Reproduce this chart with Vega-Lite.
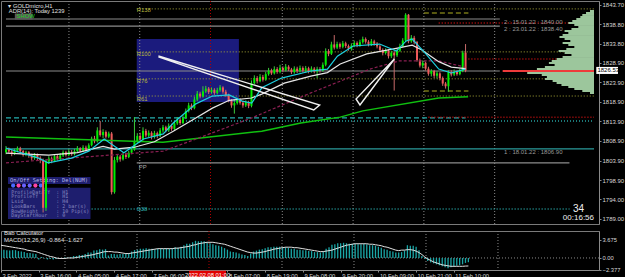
{
"$schema":"https://vega.github.io/schema/vega-lite/v6.json",
"background":"#000000",
"padding":0,
"spacing":4,
"config":{"view":{"stroke":"#7a7a7a","strokeWidth":1},"axis":{"labelFont":"Liberation Sans","labelColor":"#d8d8d8","domainColor":"#8a8a8a","tickColor":"#8a8a8a","grid":false},"text":{"font":"Liberation Sans"}},
"datasets":{
"c":[
{"i":0,"o":1806.0,"h":1807.6,"l":1805.5,"c":1806.8,"m":1.6,"s":2.6},
{"i":1,"o":1806.8,"h":1807.2,"l":1805.8,"c":1806.2,"m":1.7,"s":2.5},
{"i":2,"o":1806.2,"h":1806.6,"l":1805.0,"c":1805.6,"m":1.6,"s":2.4},
{"i":3,"o":1805.6,"h":1806.9,"l":1805.3,"c":1806.4,"m":1.5,"s":2.3},
{"i":4,"o":1806.4,"h":1807.5,"l":1806.0,"c":1807.0,"m":1.6,"s":2.2},
{"i":5,"o":1807.0,"h":1807.4,"l":1805.9,"c":1806.3,"m":1.6,"s":2.1},
{"i":6,"o":1806.3,"h":1806.6,"l":1804.9,"c":1805.4,"m":1.4,"s":2.0},
{"i":7,"o":1805.4,"h":1806.4,"l":1805.0,"c":1806.0,"m":1.3,"s":1.9},
{"i":8,"o":1806.0,"h":1806.3,"l":1804.6,"c":1805.2,"m":1.2,"s":1.8},
{"i":9,"o":1805.2,"h":1805.6,"l":1803.9,"c":1804.5,"m":1.0,"s":1.6},
{"i":10,"o":1804.5,"h":1805.8,"l":1804.1,"c":1805.3,"m":1.0,"s":1.5},
{"i":11,"o":1805.3,"h":1805.7,"l":1804.0,"c":1804.6,"m":0.9,"s":1.4},
{"i":12,"o":1804.6,"h":1805.0,"l":1803.2,"c":1804.0,"m":0.8,"s":1.3},
{"i":13,"o":1804.0,"h":1804.4,"l":1790.6,"c":1791.8,"m":-0.3,"s":1.1},
{"i":14,"o":1791.8,"h":1804.2,"l":1791.0,"c":1803.6,"m":0.2,"s":0.9},
{"i":15,"o":1803.6,"h":1805.0,"l":1803.0,"c":1804.4,"m":-0.1,"s":0.7},
{"i":16,"o":1804.4,"h":1804.9,"l":1803.2,"c":1803.8,"m":-0.3,"s":0.5},
{"i":17,"o":1803.8,"h":1805.4,"l":1803.5,"c":1805.0,"m":-0.2,"s":0.3},
{"i":18,"o":1805.0,"h":1805.5,"l":1803.9,"c":1804.3,"m":-0.3,"s":0.2},
{"i":19,"o":1804.3,"h":1805.8,"l":1804.0,"c":1805.2,"m":-0.2,"s":0.0},
{"i":20,"o":1805.2,"h":1806.5,"l":1804.8,"c":1806.0,"m":0.0,"s":-0.1},
{"i":21,"o":1806.0,"h":1806.4,"l":1804.9,"c":1805.3,"m":-0.1,"s":-0.1},
{"i":22,"o":1805.3,"h":1806.8,"l":1805.0,"c":1806.1,"m":0.1,"s":-0.1},
{"i":23,"o":1806.1,"h":1806.6,"l":1805.1,"c":1805.5,"m":0.1,"s":0.0},
{"i":24,"o":1805.5,"h":1806.9,"l":1805.2,"c":1806.3,"m":0.2,"s":0.0},
{"i":25,"o":1806.3,"h":1807.6,"l":1805.9,"c":1807.0,"m":0.4,"s":0.0},
{"i":26,"o":1807.0,"h":1807.3,"l":1806.0,"c":1806.4,"m":0.4,"s":0.1},
{"i":27,"o":1806.4,"h":1807.8,"l":1806.1,"c":1807.2,"m":0.6,"s":0.2},
{"i":28,"o":1807.2,"h":1807.7,"l":1806.2,"c":1806.6,"m":0.6,"s":0.3},
{"i":29,"o":1806.6,"h":1808.3,"l":1806.3,"c":1807.8,"m":0.8,"s":0.4},
{"i":30,"o":1807.8,"h":1810.0,"l":1807.5,"c":1809.5,"m":1.1,"s":0.5},
{"i":31,"o":1809.5,"h":1810.2,"l":1808.3,"c":1808.8,"m":1.1,"s":0.6},
{"i":32,"o":1808.8,"h":1812.4,"l":1808.5,"c":1811.6,"m":1.5,"s":0.7},
{"i":33,"o":1811.6,"h":1814.0,"l":1810.0,"c":1810.4,"m":1.6,"s":0.9},
{"i":34,"o":1810.4,"h":1811.9,"l":1809.6,"c":1811.2,"m":1.8,"s":1.0},
{"i":35,"o":1811.2,"h":1811.6,"l":1809.5,"c":1810.0,"m":1.7,"s":1.2},
{"i":36,"o":1810.0,"h":1811.3,"l":1809.6,"c":1810.8,"m":1.8,"s":1.3},
{"i":37,"o":1810.8,"h":1811.2,"l":1795.2,"c":1795.8,"m":0.5,"s":1.3},
{"i":38,"o":1795.8,"h":1804.8,"l":1795.4,"c":1804.0,"m":0.8,"s":1.3},
{"i":39,"o":1804.0,"h":1805.5,"l":1803.4,"c":1804.9,"m":0.8,"s":1.2},
{"i":40,"o":1804.9,"h":1805.3,"l":1803.6,"c":1804.2,"m":0.7,"s":1.2},
{"i":41,"o":1804.2,"h":1806.0,"l":1803.9,"c":1805.4,"m":0.8,"s":1.1},
{"i":42,"o":1805.4,"h":1805.9,"l":1804.3,"c":1804.8,"m":0.8,"s":1.0},
{"i":43,"o":1804.8,"h":1806.4,"l":1804.5,"c":1805.9,"m":0.9,"s":0.9},
{"i":44,"o":1805.9,"h":1807.2,"l":1805.5,"c":1806.7,"m":1.0,"s":0.9},
{"i":45,"o":1806.7,"h":1815.0,"l":1806.4,"c":1808.8,"m":1.3,"s":1.0},
{"i":46,"o":1808.8,"h":1810.9,"l":1808.2,"c":1810.2,"m":1.6,"s":1.1},
{"i":47,"o":1810.2,"h":1811.0,"l":1808.9,"c":1809.4,"m":1.7,"s":1.2},
{"i":48,"o":1809.4,"h":1812.4,"l":1809.0,"c":1811.5,"m":1.9,"s":1.3},
{"i":49,"o":1811.5,"h":1812.0,"l":1809.8,"c":1810.3,"m":1.9,"s":1.4},
{"i":50,"o":1810.3,"h":1811.6,"l":1809.9,"c":1811.0,"m":2.0,"s":1.5},
{"i":51,"o":1811.0,"h":1811.4,"l":1809.3,"c":1810.0,"m":1.9,"s":1.6},
{"i":52,"o":1810.0,"h":1811.5,"l":1809.5,"c":1810.9,"m":1.9,"s":1.7},
{"i":53,"o":1810.9,"h":1811.3,"l":1809.6,"c":1810.2,"m":1.8,"s":1.8},
{"i":54,"o":1810.2,"h":1812.2,"l":1809.9,"c":1811.6,"m":1.9,"s":1.9},
{"i":55,"o":1811.6,"h":1813.0,"l":1811.0,"c":1812.4,"m":2.0,"s":1.9},
{"i":56,"o":1812.4,"h":1812.8,"l":1811.1,"c":1811.6,"m":1.9,"s":1.9},
{"i":57,"o":1811.6,"h":1813.4,"l":1811.2,"c":1812.8,"m":2.0,"s":1.9},
{"i":58,"o":1812.8,"h":1813.3,"l":1811.5,"c":1812.0,"m":1.9,"s":1.9},
{"i":59,"o":1812.0,"h":1814.0,"l":1811.7,"c":1813.4,"m":2.0,"s":1.9},
{"i":60,"o":1813.4,"h":1815.0,"l":1813.0,"c":1814.3,"m":2.2,"s":2.0},
{"i":61,"o":1814.3,"h":1814.8,"l":1813.0,"c":1813.5,"m":2.1,"s":2.0},
{"i":62,"o":1813.5,"h":1815.5,"l":1813.2,"c":1814.8,"m":2.3,"s":2.1},
{"i":63,"o":1814.8,"h":1817.2,"l":1814.5,"c":1816.6,"m":2.6,"s":2.2},
{"i":64,"o":1816.6,"h":1818.7,"l":1816.2,"c":1818.0,"m":2.9,"s":2.3},
{"i":65,"o":1818.0,"h":1818.5,"l":1816.8,"c":1817.3,"m":2.9,"s":2.4},
{"i":66,"o":1817.3,"h":1820.2,"l":1817.0,"c":1819.5,"m":3.2,"s":2.6},
{"i":67,"o":1819.5,"h":1821.7,"l":1819.1,"c":1821.0,"m":3.5,"s":2.7},
{"i":68,"o":1821.0,"h":1821.5,"l":1819.8,"c":1820.3,"m":3.4,"s":2.9},
{"i":69,"o":1820.3,"h":1822.9,"l":1820.0,"c":1821.6,"m":3.4,"s":3.0},
{"i":70,"o":1821.6,"h":1823.0,"l":1821.2,"c":1822.3,"m":3.4,"s":3.1},
{"i":71,"o":1822.3,"h":1822.7,"l":1820.9,"c":1821.4,"m":3.2,"s":3.2},
{"i":72,"o":1821.4,"h":1822.6,"l":1821.0,"c":1822.0,"m":3.0,"s":3.2},
{"i":73,"o":1822.0,"h":1822.4,"l":1820.7,"c":1821.2,"m":2.8,"s":3.2},
{"i":74,"o":1821.2,"h":1822.5,"l":1820.8,"c":1821.9,"m":2.6,"s":3.1},
{"i":75,"o":1821.9,"h":1823.2,"l":1821.5,"c":1822.6,"m":2.5,"s":3.0},
{"i":76,"o":1822.6,"h":1822.9,"l":1821.0,"c":1821.5,"m":2.3,"s":2.9},
{"i":77,"o":1821.5,"h":1822.0,"l":1820.2,"c":1820.6,"m":2.0,"s":2.8},
{"i":78,"o":1820.6,"h":1821.0,"l":1818.8,"c":1819.2,"m":1.7,"s":2.6},
{"i":79,"o":1819.2,"h":1819.6,"l":1817.4,"c":1818.0,"m":1.3,"s":2.4},
{"i":80,"o":1818.0,"h":1819.6,"l":1815.9,"c":1818.6,"m":1.2,"s":2.2},
{"i":81,"o":1818.6,"h":1820.0,"l":1818.2,"c":1819.4,"m":1.1,"s":2.0},
{"i":82,"o":1819.4,"h":1819.9,"l":1818.2,"c":1818.7,"m":0.9,"s":1.8},
{"i":83,"o":1818.7,"h":1819.2,"l":1817.4,"c":1818.0,"m":0.7,"s":1.6},
{"i":84,"o":1818.0,"h":1819.3,"l":1817.6,"c":1818.8,"m":0.6,"s":1.4},
{"i":85,"o":1818.8,"h":1819.2,"l":1817.3,"c":1817.9,"m":0.4,"s":1.2},
{"i":86,"o":1817.9,"h":1824.4,"l":1817.5,"c":1823.7,"m":0.9,"s":1.1},
{"i":87,"o":1823.7,"h":1825.7,"l":1823.3,"c":1825.0,"m":1.3,"s":1.0},
{"i":88,"o":1825.0,"h":1825.5,"l":1823.6,"c":1824.2,"m":1.5,"s":1.0},
{"i":89,"o":1824.2,"h":1826.0,"l":1823.9,"c":1825.3,"m":1.7,"s":1.1},
{"i":90,"o":1825.3,"h":1825.8,"l":1824.1,"c":1824.6,"m":1.8,"s":1.2},
{"i":91,"o":1824.6,"h":1826.6,"l":1824.3,"c":1826.0,"m":2.0,"s":1.3},
{"i":92,"o":1826.0,"h":1827.6,"l":1825.6,"c":1826.9,"m":2.2,"s":1.5},
{"i":93,"o":1826.9,"h":1827.4,"l":1825.8,"c":1826.2,"m":2.2,"s":1.6},
{"i":94,"o":1826.2,"h":1828.0,"l":1825.9,"c":1827.3,"m":2.3,"s":1.8},
{"i":95,"o":1827.3,"h":1827.8,"l":1826.1,"c":1826.6,"m":2.3,"s":1.9},
{"i":96,"o":1826.6,"h":1828.4,"l":1826.2,"c":1827.6,"m":2.3,"s":2.0},
{"i":97,"o":1827.6,"h":1828.0,"l":1826.5,"c":1827.0,"m":2.2,"s":2.1},
{"i":98,"o":1827.0,"h":1828.6,"l":1826.7,"c":1827.9,"m":2.2,"s":2.2},
{"i":99,"o":1827.9,"h":1828.3,"l":1826.8,"c":1827.2,"m":2.1,"s":2.2},
{"i":100,"o":1827.2,"h":1827.6,"l":1826.0,"c":1826.5,"m":1.9,"s":2.2},
{"i":101,"o":1826.5,"h":1828.0,"l":1826.1,"c":1827.4,"m":1.9,"s":2.1},
{"i":102,"o":1827.4,"h":1827.9,"l":1826.3,"c":1826.8,"m":1.7,"s":2.1},
{"i":103,"o":1826.8,"h":1828.2,"l":1826.4,"c":1827.6,"m":1.7,"s":2.0},
{"i":104,"o":1827.6,"h":1828.0,"l":1826.4,"c":1826.9,"m":1.6,"s":1.9},
{"i":105,"o":1826.9,"h":1828.1,"l":1826.3,"c":1827.5,"m":1.6,"s":1.8},
{"i":106,"o":1827.5,"h":1827.9,"l":1826.2,"c":1826.8,"m":1.4,"s":1.7},
{"i":107,"o":1826.8,"h":1828.0,"l":1826.4,"c":1827.4,"m":1.4,"s":1.6},
{"i":108,"o":1827.4,"h":1827.8,"l":1826.2,"c":1826.7,"m":1.2,"s":1.5},
{"i":109,"o":1826.7,"h":1827.9,"l":1825.0,"c":1827.3,"m":1.2,"s":1.4},
{"i":110,"o":1827.3,"h":1827.8,"l":1826.4,"c":1826.9,"m":1.1,"s":1.3},
{"i":111,"o":1826.9,"h":1829.0,"l":1826.6,"c":1828.4,"m":1.3,"s":1.3},
{"i":112,"o":1828.4,"h":1832.6,"l":1828.0,"c":1831.9,"m":1.9,"s":1.4},
{"i":113,"o":1831.9,"h":1832.4,"l":1830.6,"c":1831.2,"m":2.2,"s":1.5},
{"i":114,"o":1831.2,"h":1834.3,"l":1830.9,"c":1833.6,"m":2.7,"s":1.6},
{"i":115,"o":1833.6,"h":1836.0,"l":1832.3,"c":1832.8,"m":2.8,"s":1.8},
{"i":116,"o":1832.8,"h":1834.3,"l":1832.4,"c":1833.7,"m":3.0,"s":2.0},
{"i":117,"o":1833.7,"h":1834.1,"l":1832.5,"c":1833.0,"m":3.0,"s":2.2},
{"i":118,"o":1833.0,"h":1834.5,"l":1832.6,"c":1833.9,"m":3.1,"s":2.4},
{"i":119,"o":1833.9,"h":1834.3,"l":1832.7,"c":1833.2,"m":3.0,"s":2.6},
{"i":120,"o":1833.2,"h":1833.6,"l":1832.0,"c":1832.5,"m":2.9,"s":2.7},
{"i":121,"o":1832.5,"h":1833.9,"l":1832.0,"c":1833.3,"m":2.9,"s":2.8},
{"i":122,"o":1833.3,"h":1834.6,"l":1832.9,"c":1834.0,"m":2.9,"s":2.9},
{"i":123,"o":1834.0,"h":1834.4,"l":1832.9,"c":1833.4,"m":2.8,"s":2.9},
{"i":124,"o":1833.4,"h":1834.8,"l":1833.0,"c":1834.2,"m":2.8,"s":2.9},
{"i":125,"o":1834.2,"h":1835.6,"l":1833.8,"c":1835.0,"m":2.9,"s":2.9},
{"i":126,"o":1835.0,"h":1835.4,"l":1833.8,"c":1834.3,"m":2.8,"s":2.9},
{"i":127,"o":1834.3,"h":1834.7,"l":1833.1,"c":1833.6,"m":2.6,"s":2.8},
{"i":128,"o":1833.6,"h":1835.0,"l":1833.2,"c":1834.4,"m":2.6,"s":2.8},
{"i":129,"o":1834.4,"h":1834.8,"l":1833.3,"c":1833.8,"m":2.5,"s":2.7},
{"i":130,"o":1833.8,"h":1834.2,"l":1832.6,"c":1833.1,"m":2.3,"s":2.6},
{"i":131,"o":1833.1,"h":1833.5,"l":1831.7,"c":1832.2,"m":2.1,"s":2.5},
{"i":132,"o":1832.2,"h":1832.6,"l":1830.8,"c":1831.4,"m":1.8,"s":2.3},
{"i":133,"o":1831.4,"h":1832.6,"l":1831.0,"c":1832.0,"m":1.7,"s":2.2},
{"i":134,"o":1832.0,"h":1832.4,"l":1830.0,"c":1830.6,"m":1.4,"s":2.0},
{"i":135,"o":1830.6,"h":1832.0,"l":1830.1,"c":1831.5,"m":1.3,"s":1.8},
{"i":136,"o":1831.5,"h":1831.9,"l":1821.8,"c":1830.8,"m":1.1,"s":1.6},
{"i":137,"o":1830.8,"h":1832.6,"l":1830.4,"c":1832.0,"m":1.1,"s":1.5},
{"i":138,"o":1832.0,"h":1833.8,"l":1831.7,"c":1833.2,"m":1.2,"s":1.6},
{"i":139,"o":1833.2,"h":1835.2,"l":1832.8,"c":1834.6,"m":1.5,"s":1.6},
{"i":140,"o":1834.6,"h":1841.6,"l":1834.2,"c":1841.2,"m":2.6,"s":1.7},
{"i":141,"o":1841.2,"h":1841.4,"l":1833.9,"c":1834.4,"m":2.5,"s":1.7},
{"i":142,"o":1834.4,"h":1836.0,"l":1834.0,"c":1835.3,"m":2.5,"s":1.6},
{"i":143,"o":1835.3,"h":1835.8,"l":1833.6,"c":1834.2,"m":2.3,"s":1.4},
{"i":144,"o":1834.2,"h":1834.5,"l":1829.2,"c":1829.6,"m":1.6,"s":1.1},
{"i":145,"o":1829.6,"h":1830.0,"l":1827.7,"c":1828.2,"m":0.4,"s":0.7},
{"i":146,"o":1828.2,"h":1829.5,"l":1827.5,"c":1828.9,"m":-0.2,"s":0.2},
{"i":147,"o":1828.9,"h":1829.2,"l":1826.9,"c":1827.4,"m":-0.6,"s":-0.2},
{"i":148,"o":1827.4,"h":1827.9,"l":1825.6,"c":1826.1,"m":-0.9,"s":-0.5},
{"i":149,"o":1826.1,"h":1827.3,"l":1825.4,"c":1826.8,"m":-1.1,"s":-0.8},
{"i":150,"o":1826.8,"h":1827.1,"l":1825.0,"c":1825.6,"m":-1.3,"s":-1.0},
{"i":151,"o":1825.6,"h":1826.8,"l":1824.9,"c":1826.2,"m":-1.5,"s":-1.2},
{"i":152,"o":1826.2,"h":1826.5,"l":1824.4,"c":1825.0,"m":-1.7,"s":-1.4},
{"i":153,"o":1825.0,"h":1825.4,"l":1823.0,"c":1823.6,"m":-1.9,"s":-1.5},
{"i":154,"o":1823.6,"h":1824.0,"l":1822.3,"c":1822.9,"m":-2.1,"s":-1.6},
{"i":155,"o":1822.9,"h":1827.0,"l":1821.5,"c":1826.5,"m":-1.9,"s":-1.7},
{"i":156,"o":1826.5,"h":1827.0,"l":1825.4,"c":1825.9,"m":-1.8,"s":-1.7},
{"i":157,"o":1825.9,"h":1827.2,"l":1825.5,"c":1826.6,"m":-1.6,"s":-1.7},
{"i":158,"o":1826.6,"h":1827.0,"l":1825.6,"c":1826.0,"m":-1.5,"s":-1.7},
{"i":159,"o":1826.0,"h":1827.4,"l":1825.7,"c":1826.8,"m":-1.3,"s":-1.7},
{"i":160,"o":1826.8,"h":1832.0,"l":1826.5,"c":1831.5,"m":-1.0,"s":-1.65},
{"i":161,"o":1831.5,"h":1833.7,"l":1826.5,"c":1826.9,"m":-0.86,"s":-1.63}
],
"ma":[
{"k":"c","i":0,"p":1807.1},{"k":"c","i":11.4,"p":1804.5},{"k":"c","i":14.8,"p":1803.3},{"k":"c","i":23,"p":1804.5},{"k":"c","i":29,"p":1806.3},{"k":"c","i":34.4,"p":1809.4},{"k":"c","i":37.9,"p":1807.6},{"k":"c","i":41.3,"p":1805.9},{"k":"c","i":48.2,"p":1809.4},{"k":"c","i":55.1,"p":1810.7},{"k":"c","i":58.6,"p":1813.5},{"k":"c","i":66.5,"p":1818.4},{"k":"c","i":72.3,"p":1820.4},{"k":"c","i":78.2,"p":1820.7},{"k":"c","i":82.7,"p":1819.1},{"k":"c","i":86.1,"p":1818.6},{"k":"c","i":89.6,"p":1822.5},{"k":"c","i":96.5,"p":1825.0},{"k":"c","i":106.8,"p":1826.8},{"k":"c","i":112.6,"p":1827.3},{"k":"c","i":116.1,"p":1830.6},{"k":"c","i":121.6,"p":1833.2},{"k":"c","i":130.9,"p":1833.7},{"k":"c","i":136.8,"p":1831.9},{"k":"c","i":140.2,"p":1834.5},{"k":"c","i":142.3,"p":1835.0},{"k":"c","i":147.1,"p":1831.2},{"k":"c","i":151.6,"p":1827.3},{"k":"c","i":156,"p":1826.3},{"k":"c","i":160.9,"p":1827.3},
{"k":"w","i":0,"p":1805.8},{"k":"w","i":15,"p":1805.3},{"k":"w","i":25,"p":1805.9},{"k":"w","i":34,"p":1807.5},{"k":"w","i":38,"p":1806.8},{"k":"w","i":45,"p":1807.3},{"k":"w","i":52,"p":1808.7},{"k":"w","i":58.6,"p":1811.4},{"k":"w","i":66.5,"p":1814.8},{"k":"w","i":72.3,"p":1817.3},{"k":"w","i":78.2,"p":1819.3},{"k":"w","i":86,"p":1819.9},{"k":"w","i":89.6,"p":1820.9},{"k":"w","i":97.5,"p":1823.7},{"k":"w","i":106.8,"p":1825.5},{"k":"w","i":112.6,"p":1826.4},{"k":"w","i":117.1,"p":1828.6},{"k":"w","i":126.4,"p":1831.2},{"k":"w","i":135.4,"p":1832.4},{"k":"w","i":142.3,"p":1833.4},{"k":"w","i":145.7,"p":1832.2},{"k":"w","i":151.6,"p":1829.2},{"k":"w","i":156,"p":1827.8},{"k":"w","i":161,"p":1827.4},
{"k":"r","i":0,"p":1803.3},{"k":"r","i":55.1,"p":1806.3},{"k":"r","i":71.3,"p":1810.7},{"k":"r","i":86.1,"p":1814.8},{"k":"r","i":106.8,"p":1821.2},{"k":"r","i":117.1,"p":1824.2},{"k":"r","i":127.5,"p":1827.3},{"k":"r","i":137.8,"p":1829.4},{"k":"r","i":151.6,"p":1829.4},{"k":"r","i":160.9,"p":1827.8},
{"k":"g","i":0,"p":1809.9},{"k":"g","i":55,"p":1808.6},{"k":"g","i":89.6,"p":1811.4},{"k":"g","i":103.3,"p":1813.5},{"k":"g","i":117.1,"p":1815.0},{"k":"g","i":125,"p":1816.6},{"k":"g","i":151.6,"p":1819.9},{"k":"g","i":161.9,"p":1820.2}
],
"lv":[
{"p":1842.7,"a":45.8,"b":206,"t":"ol"},
{"p":1831.7,"a":45.8,"b":206,"t":"ol"},
{"p":1824.8,"a":45.8,"b":206,"t":"ol"},
{"p":1820.4,"a":45.8,"b":206,"t":"ol"},
{"p":1841.65,"a":146.4,"b":162,"t":"od"},
{"p":1821.7,"a":146.4,"b":162,"t":"od"},
{"p":1840.1,"a":0,"b":173,"t":"gr"},
{"p":1838.3,"a":0,"b":173,"t":"gr"},
{"p":1826.8,"a":0,"b":173,"t":"gr"},
{"p":1803.3,"a":45.8,"b":197.4,"t":"g1"},
{"p":1806.85,"a":0,"b":206,"t":"te"},
{"p":1814.8,"a":0,"b":161,"t":"td"},
{"p":1814.0,"a":0,"b":206,"t":"tt"},
{"p":1791.5,"a":30,"b":197.4,"t":"tt"},
{"p":1839.1,"a":151.6,"b":206,"t":"rd"},
{"p":1829.9,"a":162,"b":206,"t":"rd"},
{"p":1815.0,"a":148,"b":206,"t":"rd"}
],
"prof":[
{"p1":1841.91,"p2":1842.42,"a":204.6,"k":"n"},
{"p1":1841.40,"p2":1841.91,"a":203.2,"k":"n"},
{"p1":1840.89,"p2":1841.40,"a":201.9,"k":"n"},
{"p1":1840.37,"p2":1840.88,"a":201.2,"k":"n"},
{"p1":1839.86,"p2":1840.37,"a":199.8,"k":"n"},
{"p1":1839.35,"p2":1839.86,"a":198.4,"k":"n"},
{"p1":1838.84,"p2":1839.35,"a":197.0,"k":"n"},
{"p1":1838.33,"p2":1838.84,"a":199.1,"k":"n"},
{"p1":1837.81,"p2":1838.32,"a":200.5,"k":"n"},
{"p1":1837.30,"p2":1837.81,"a":198.1,"k":"n"},
{"p1":1836.79,"p2":1837.30,"a":195.7,"k":"n"},
{"p1":1836.28,"p2":1836.79,"a":197.0,"k":"n"},
{"p1":1835.77,"p2":1836.28,"a":195.0,"k":"n"},
{"p1":1835.25,"p2":1835.76,"a":193.9,"k":"n"},
{"p1":1834.74,"p2":1835.25,"a":195.7,"k":"n"},
{"p1":1834.23,"p2":1834.74,"a":197.7,"k":"n"},
{"p1":1833.72,"p2":1834.23,"a":195.0,"k":"n"},
{"p1":1833.21,"p2":1833.72,"a":197.0,"k":"n"},
{"p1":1832.69,"p2":1833.20,"a":199.1,"k":"n"},
{"p1":1832.18,"p2":1832.69,"a":196.3,"k":"n"},
{"p1":1831.67,"p2":1832.18,"a":193.6,"k":"n"},
{"p1":1831.16,"p2":1831.67,"a":195.7,"k":"n"},
{"p1":1830.65,"p2":1831.16,"a":198.1,"k":"n"},
{"p1":1830.14,"p2":1830.65,"a":195.0,"k":"n"},
{"p1":1829.62,"p2":1830.13,"a":192.9,"k":"n"},
{"p1":1829.11,"p2":1829.62,"a":191.2,"k":"n"},
{"p1":1828.60,"p2":1829.11,"a":190.2,"k":"n"},
{"p1":1828.09,"p2":1828.60,"a":192.2,"k":"n"},
{"p1":1827.58,"p2":1828.09,"a":188.8,"k":"n"},
{"p1":1827.06,"p2":1827.57,"a":186.0,"k":"n"},
{"p1":1826.55,"p2":1827.06,"a":174.0,"k":"c"},
{"p1":1826.04,"p2":1826.55,"a":182.6,"k":"n"},
{"p1":1825.53,"p2":1826.04,"a":187.7,"k":"n"},
{"p1":1825.02,"p2":1825.53,"a":189.5,"k":"n"},
{"p1":1824.51,"p2":1825.02,"a":188.8,"k":"n"},
{"p1":1823.99,"p2":1824.50,"a":191.5,"k":"n"},
{"p1":1823.48,"p2":1823.99,"a":192.9,"k":"n"},
{"p1":1822.97,"p2":1823.48,"a":194.6,"k":"n"},
{"p1":1822.46,"p2":1822.97,"a":197.0,"k":"n"},
{"p1":1821.95,"p2":1822.46,"a":199.1,"k":"n"},
{"p1":1821.43,"p2":1821.94,"a":201.9,"k":"n"},
{"p1":1820.92,"p2":1821.43,"a":204.6,"k":"n"}
],
"vg":[{"i":22.05,"r":"n"},{"i":46.85,"r":"n"},{"i":71.65,"r":"r"},{"i":96.8,"r":"n"},{"i":121.6,"r":"n"},{"i":146.4,"r":"n"},{"i":171.2,"r":"n"}],
"wedge":[
{"w":1,"o":0,"i":53.39,"p":1830.65},{"w":1,"o":1,"i":109.89,"p":1818.11},{"w":1,"o":2,"i":107.82,"p":1816.83},{"w":1,"o":3,"i":53.39,"p":1830.4},
{"w":2,"o":0,"i":136.07,"p":1829.88},{"w":2,"o":1,"i":122.63,"p":1819.64},{"w":2,"o":2,"i":124.01,"p":1818.11},{"w":2,"o":3,"i":136.07,"p":1829.88}
],
"tx":[
{"i":0.8,"p":1843.55,"s":"▾ GOLDmicro,H1","k":"hd"},
{"i":1.0,"p":1842.05,"s":"ADR(14): Today 1239","k":"hd"},
{"i":3.7,"p":1840.8,"s":"SHOW","k":"sh"},
{"i":45.8,"p":1842.3,"s":"R138","k":"rl"},
{"i":45.8,"p":1831.15,"s":"R100","k":"rl"},
{"i":45.8,"p":1824.25,"s":"R76","k":"rl"},
{"i":45.8,"p":1819.75,"s":"R61","k":"rl"},
{"i":46.5,"p":1802.2,"s":"PP","k":"pp"},
{"i":45.8,"p":1791.5,"s":"S38","k":"s38"},
{"i":174.5,"p":1839.45,"s":"2 : 15.01.22 : 1840.00","k":"lb"},
{"i":174.5,"p":1837.65,"s":"2 : 23.01.22 : 1838.40","k":"lb"},
{"i":174.5,"p":1806.05,"s":"1 : 18.01.22 : 1806.90","k":"lb"}
],
"txr":[
{"i":202.5,"p":1791.6,"s":"34","k":"big"},
{"i":206,"p":1789.1,"s":"00:16:56","k":"clk"}
],
"set":[
{"k":"ProfileDataTf","v":": H1","p":1795.84},
{"k":"ProfileTf","v":": H1","p":1794.69},
{"k":"Lsid","v":": H4","p":1793.54},
{"k":"LookBars","v":": 2 bar(s)","p":1792.26},
{"k":"RowHeight","v":": 10 Pip(s)","p":1790.98},
{"k":"DayStartHour","v":": 0","p":1789.83}
]
},
"vconcat":[
{
"width":598,"height":223,
"resolve":{"scale":{"color":"independent","size":"independent","strokeDash":"independent","strokeWidth":"independent"}},
"layer":[
{"data":{"values":[{"a":45.8,"b":81.6,"p1":1835.0,"p2":1818.9}]},
"mark":{"type":"rect","fill":"#1b1b7d"},
"encoding":{
"x":{"field":"a","type":"quantitative","scale":{"domain":[0,206],"nice":false,"zero":false},"axis":null},
"x2":{"field":"b"},
"y":{"field":"p1","type":"quantitative","scale":{"domain":[1787.65,1844.72],"nice":false,"zero":false},"axis":{"orient":"right","title":null,"values":[1843.7,1838.8,1833.8,1828.9,1823.9,1818.9,1813.9,1808.9,1803.9,1798.9,1794.0,1789.0],"format":".2f","labelFontSize":6,"tickSize":2,"labelPadding":1,"labelOverlap":false,"labelFlush":false}},
"y2":{"field":"p2"}}},
{"data":{"name":"vg"},"mark":{"type":"rule","strokeDash":[1,2],"strokeWidth":1},
"encoding":{"x":{"field":"i","type":"quantitative","scale":{"domain":[0,206]},"axis":null},
"color":{"field":"r","type":"nominal","scale":{"domain":["n","r"],"range":["#8a8a8a","#b00000"]},"legend":null}}},
{"data":{"name":"lv"},"mark":{"type":"rule","clip":true},
"encoding":{"x":{"field":"a","type":"quantitative","scale":{"domain":[0,206]},"axis":null},"x2":{"field":"b"},
"y":{"field":"p","type":"quantitative","scale":{"domain":[1787.65,1844.72]},"axis":{"orient":"right","title":null,"values":[1843.7,1838.8,1833.8,1828.9,1823.9,1818.9,1813.9,1808.9,1803.9,1798.9,1794.0,1789.0],"format":".2f","labelFontSize":6,"tickSize":2,"labelPadding":1,"labelOverlap":false,"labelFlush":false}},
"color":{"field":"t","type":"nominal","scale":{"domain":["ol","od","gr","g1","te","td","tt","rd"],"range":["#a8a838","#b0b020","#8c8c8c","#8c8c8c","#2a9a9a","#25b0b0","#25a0a0","#c01010"]},"legend":null},
"strokeDash":{"field":"t","type":"nominal","scale":{"domain":["ol","od","gr","g1","te","td","tt","rd"],"range":[[1,2],[5,3],[1,0],[1,0],[1,0],[5,3],[1,2],[1,2]]},"legend":null},
"strokeWidth":{"field":"t","type":"nominal","scale":{"domain":["ol","od","gr","g1","te","td","tt","rd"],"range":[1,1.5,2,1,1.5,1,1,1]},"legend":null}}},
{"data":{"values":[{"a":0.7,"b":29.6,"p1":1799.7,"p2":1797.9},{"a":0.7,"b":29.6,"p1":1796.9,"p2":1788.9}]},
"mark":{"type":"rect","fill":"#1e1e6e"},
"encoding":{"x":{"field":"a","type":"quantitative","scale":{"domain":[0,206]},"axis":null},"x2":{"field":"b"},
"y":{"field":"p1","type":"quantitative","scale":{"domain":[1787.65,1844.72]},"axis":{"orient":"right","title":null,"values":[1843.7,1838.8,1833.8,1828.9,1823.9,1818.9,1813.9,1808.9,1803.9,1798.9,1794.0,1789.0],"format":".2f","labelFontSize":6,"tickSize":2,"labelPadding":1,"labelOverlap":false,"labelFlush":false}},"y2":{"field":"p2"}}},
{"data":{"values":[{"i":2.5,"p":1797.5,"c":"#4a6aff"},{"i":4.4,"p":1797.5,"c":"#ff45a5"},{"i":6.3,"p":1797.5,"c":"#6a62ff"},{"i":8.3,"p":1797.5,"c":"#6a62ff"},{"i":10.3,"p":1797.5,"c":"#ff45a5"},{"i":12.2,"p":1797.5,"c":"#4a6aff"}]},
"mark":{"type":"point","filled":true,"size":18,"opacity":1},
"encoding":{"x":{"field":"i","type":"quantitative","scale":{"domain":[0,206]},"axis":null},
"y":{"field":"p","type":"quantitative","scale":{"domain":[1787.65,1844.72]},"axis":{"orient":"right","title":null,"values":[1843.7,1838.8,1833.8,1828.9,1823.9,1818.9,1813.9,1808.9,1803.9,1798.9,1794.0,1789.0],"format":".2f","labelFontSize":6,"tickSize":2,"labelPadding":1,"labelOverlap":false,"labelFlush":false}},
"color":{"field":"c","type":"nominal","scale":null}}},
{"data":{"values":[{"i":1.4,"p":1798.8,"s":"On/Off Setting: Del(NUM)"}]},
"mark":{"type":"text","align":"left","baseline":"middle","font":"DejaVu Sans Mono","fontSize":5.4,"color":"#b8b8e8"},
"encoding":{"x":{"field":"i","type":"quantitative","scale":{"domain":[0,206]},"axis":null},
"y":{"field":"p","type":"quantitative","scale":{"domain":[1787.65,1844.72]},"axis":{"orient":"right","title":null,"values":[1843.7,1838.8,1833.8,1828.9,1823.9,1818.9,1813.9,1808.9,1803.9,1798.9,1794.0,1789.0],"format":".2f","labelFontSize":6,"tickSize":2,"labelPadding":1,"labelOverlap":false,"labelFlush":false}},"text":{"field":"s"}}},
{"data":{"name":"set"},
"mark":{"type":"text","align":"left","baseline":"middle","font":"DejaVu Sans Mono","fontSize":5,"color":"#8a8ac0"},
"encoding":{"x":{"datum":1.8,"type":"quantitative","scale":{"domain":[0,206]},"axis":null},
"y":{"field":"p","type":"quantitative","scale":{"domain":[1787.65,1844.72]},"axis":{"orient":"right","title":null,"values":[1843.7,1838.8,1833.8,1828.9,1823.9,1818.9,1813.9,1808.9,1803.9,1798.9,1794.0,1789.0],"format":".2f","labelFontSize":6,"tickSize":2,"labelPadding":1,"labelOverlap":false,"labelFlush":false}},"text":{"field":"k"}}},
{"data":{"name":"set"},
"mark":{"type":"text","align":"left","baseline":"middle","font":"DejaVu Sans Mono","fontSize":5,"color":"#8a8ac0"},
"encoding":{"x":{"datum":17.6,"type":"quantitative","scale":{"domain":[0,206]},"axis":null},
"y":{"field":"p","type":"quantitative","scale":{"domain":[1787.65,1844.72]},"axis":{"orient":"right","title":null,"values":[1843.7,1838.8,1833.8,1828.9,1823.9,1818.9,1813.9,1808.9,1803.9,1798.9,1794.0,1789.0],"format":".2f","labelFontSize":6,"tickSize":2,"labelPadding":1,"labelOverlap":false,"labelFlush":false}},"text":{"field":"v"}}},
{"data":{"values":[{"a":3.1,"b":9.3,"p1":1841.55,"p2":1840.0}]},
"mark":{"type":"rect","fill":"#5a5a5a"},
"encoding":{"x":{"field":"a","type":"quantitative","scale":{"domain":[0,206]},"axis":null},"x2":{"field":"b"},
"y":{"field":"p1","type":"quantitative","scale":{"domain":[1787.65,1844.72]},"axis":{"orient":"right","title":null,"values":[1843.7,1838.8,1833.8,1828.9,1823.9,1818.9,1813.9,1808.9,1803.9,1798.9,1794.0,1789.0],"format":".2f","labelFontSize":6,"tickSize":2,"labelPadding":1,"labelOverlap":false,"labelFlush":false}},"y2":{"field":"p2"}}},
{"data":{"name":"prof"},"mark":{"type":"rect"},
"encoding":{"x":{"field":"a","type":"quantitative","scale":{"domain":[0,206]},"axis":null},"x2":{"datum":206},
"y":{"field":"p1","type":"quantitative","scale":{"domain":[1787.65,1844.72]},"axis":{"orient":"right","title":null,"values":[1843.7,1838.8,1833.8,1828.9,1823.9,1818.9,1813.9,1808.9,1803.9,1798.9,1794.0,1789.0],"format":".2f","labelFontSize":6,"tickSize":2,"labelPadding":1,"labelOverlap":false,"labelFlush":false}},"y2":{"field":"p2"},
"color":{"field":"k","type":"nominal","scale":{"domain":["n","c"],"range":["#9cc69c","#ee3b3b"]},"legend":null}}},
{"data":{"name":"c"},"mark":{"type":"rule","strokeWidth":1,"clip":true},
"encoding":{"x":{"field":"i","type":"quantitative","scale":{"domain":[0,206]},"axis":null},
"y":{"field":"l","type":"quantitative","scale":{"domain":[1787.65,1844.72]},"axis":{"orient":"right","title":null,"values":[1843.7,1838.8,1833.8,1828.9,1823.9,1818.9,1813.9,1808.9,1803.9,1798.9,1794.0,1789.0],"format":".2f","labelFontSize":6,"tickSize":2,"labelPadding":1,"labelOverlap":false,"labelFlush":false}},"y2":{"field":"h"},
"color":{"condition":{"test":"datum.c >= datum.o","value":"#3ccc3c"},"value":"#c86a6a"}}},
{"data":{"name":"c"},"mark":{"type":"bar","size":2,"clip":true},
"encoding":{"x":{"field":"i","type":"quantitative","scale":{"domain":[0,206]},"axis":null},
"y":{"field":"o","type":"quantitative","scale":{"domain":[1787.65,1844.72]},"axis":{"orient":"right","title":null,"values":[1843.7,1838.8,1833.8,1828.9,1823.9,1818.9,1813.9,1808.9,1803.9,1798.9,1794.0,1789.0],"format":".2f","labelFontSize":6,"tickSize":2,"labelPadding":1,"labelOverlap":false,"labelFlush":false}},"y2":{"field":"c"},
"color":{"condition":{"test":"datum.c >= datum.o","value":"#00ee00"},"value":"#f05a5a"}}},
{"data":{"name":"ma"},"transform":[{"filter":"datum.k == 'g'"}],"mark":{"type":"line","stroke":"#10c010","strokeWidth":1.5,"clip":true},
"encoding":{"x":{"field":"i","type":"quantitative","scale":{"domain":[0,206]},"axis":null},"y":{"field":"p","type":"quantitative","scale":{"domain":[1787.65,1844.72]},"axis":{"orient":"right","title":null,"values":[1843.7,1838.8,1833.8,1828.9,1823.9,1818.9,1813.9,1808.9,1803.9,1798.9,1794.0,1789.0],"format":".2f","labelFontSize":6,"tickSize":2,"labelPadding":1,"labelOverlap":false,"labelFlush":false}}}},
{"data":{"name":"ma"},"transform":[{"filter":"datum.k == 'r'"}],"mark":{"type":"line","stroke":"#8a1f52","strokeWidth":1.2,"strokeDash":[3,2],"clip":true},
"encoding":{"x":{"field":"i","type":"quantitative","scale":{"domain":[0,206]},"axis":null},"y":{"field":"p","type":"quantitative","scale":{"domain":[1787.65,1844.72]},"axis":{"orient":"right","title":null,"values":[1843.7,1838.8,1833.8,1828.9,1823.9,1818.9,1813.9,1808.9,1803.9,1798.9,1794.0,1789.0],"format":".2f","labelFontSize":6,"tickSize":2,"labelPadding":1,"labelOverlap":false,"labelFlush":false}}}},
{"data":{"name":"ma"},"transform":[{"filter":"datum.k == 'w'"}],"mark":{"type":"line","stroke":"#e6e6e6","strokeWidth":1.2,"clip":true},
"encoding":{"x":{"field":"i","type":"quantitative","scale":{"domain":[0,206]},"axis":null},"y":{"field":"p","type":"quantitative","scale":{"domain":[1787.65,1844.72]},"axis":{"orient":"right","title":null,"values":[1843.7,1838.8,1833.8,1828.9,1823.9,1818.9,1813.9,1808.9,1803.9,1798.9,1794.0,1789.0],"format":".2f","labelFontSize":6,"tickSize":2,"labelPadding":1,"labelOverlap":false,"labelFlush":false}}}},
{"data":{"name":"ma"},"transform":[{"filter":"datum.k == 'c'"}],"mark":{"type":"line","stroke":"#1ed0e0","strokeWidth":1.2,"clip":true},
"encoding":{"x":{"field":"i","type":"quantitative","scale":{"domain":[0,206]},"axis":null},"y":{"field":"p","type":"quantitative","scale":{"domain":[1787.65,1844.72]},"axis":{"orient":"right","title":null,"values":[1843.7,1838.8,1833.8,1828.9,1823.9,1818.9,1813.9,1808.9,1803.9,1798.9,1794.0,1789.0],"format":".2f","labelFontSize":6,"tickSize":2,"labelPadding":1,"labelOverlap":false,"labelFlush":false}}}},
{"data":{"name":"wedge"},"mark":{"type":"line","stroke":"#f0f0f0","strokeWidth":1.4},
"encoding":{"x":{"field":"i","type":"quantitative","scale":{"domain":[0,206]},"axis":null},"y":{"field":"p","type":"quantitative","scale":{"domain":[1787.65,1844.72]},"axis":{"orient":"right","title":null,"values":[1843.7,1838.8,1833.8,1828.9,1823.9,1818.9,1813.9,1808.9,1803.9,1798.9,1794.0,1789.0],"format":".2f","labelFontSize":6,"tickSize":2,"labelPadding":1,"labelOverlap":false,"labelFlush":false}},
"detail":{"field":"w","type":"nominal"},"order":{"field":"o","type":"quantitative"}}},
{"data":{"name":"tx"},"mark":{"type":"text","align":"left","baseline":"middle"},
"encoding":{"x":{"field":"i","type":"quantitative","scale":{"domain":[0,206]},"axis":null},"y":{"field":"p","type":"quantitative","scale":{"domain":[1787.65,1844.72]},"axis":{"orient":"right","title":null,"values":[1843.7,1838.8,1833.8,1828.9,1823.9,1818.9,1813.9,1808.9,1803.9,1798.9,1794.0,1789.0],"format":".2f","labelFontSize":6,"tickSize":2,"labelPadding":1,"labelOverlap":false,"labelFlush":false}},
"text":{"field":"s"},
"color":{"field":"k","type":"nominal","scale":{"domain":["hd","sh","rl","pp","s38","lb"],"range":["#e0e0e0","#22d022","#b8b840","#a8a8a8","#30b4b4","#9a9a9a"]},"legend":null},
"size":{"field":"k","type":"nominal","scale":{"domain":["hd","sh","rl","pp","s38","lb"],"range":[5.8,6,6,6,6,5.5]},"legend":null}}},
{"data":{"name":"txr"},"mark":{"type":"text","align":"right","baseline":"middle","color":"#f0f0f0"},
"encoding":{"x":{"field":"i","type":"quantitative","scale":{"domain":[0,206]},"axis":null},"y":{"field":"p","type":"quantitative","scale":{"domain":[1787.65,1844.72]},"axis":{"orient":"right","title":null,"values":[1843.7,1838.8,1833.8,1828.9,1823.9,1818.9,1813.9,1808.9,1803.9,1798.9,1794.0,1789.0],"format":".2f","labelFontSize":6,"tickSize":2,"labelPadding":1,"labelOverlap":false,"labelFlush":false}},
"text":{"field":"s"},
"size":{"field":"k","type":"nominal","scale":{"domain":["big","clk"],"range":[10,8]},"legend":null}}},
{"data":{"values":[{"a":206.8,"b":214.4,"p1":1827.85,"p2":1826.05}]},
"mark":{"type":"rect","fill":"#ffffff"},
"encoding":{"x":{"field":"a","type":"quantitative","scale":{"domain":[0,206]},"axis":null},"x2":{"field":"b"},
"y":{"field":"p1","type":"quantitative","scale":{"domain":[1787.65,1844.72]},"axis":{"orient":"right","title":null,"values":[1843.7,1838.8,1833.8,1828.9,1823.9,1818.9,1813.9,1808.9,1803.9,1798.9,1794.0,1789.0],"format":".2f","labelFontSize":6,"tickSize":2,"labelPadding":1,"labelOverlap":false,"labelFlush":false}},"y2":{"field":"p2"}}},
{"data":{"values":[{"i":207.2,"p":1826.95,"s":"1826.53"}]},
"mark":{"type":"text","align":"left","baseline":"middle","fontSize":6,"color":"#000000"},
"encoding":{"x":{"field":"i","type":"quantitative","scale":{"domain":[0,206]},"axis":null},"y":{"field":"p","type":"quantitative","scale":{"domain":[1787.65,1844.72]},"axis":{"orient":"right","title":null,"values":[1843.7,1838.8,1833.8,1828.9,1823.9,1818.9,1813.9,1808.9,1803.9,1798.9,1794.0,1789.0],"format":".2f","labelFontSize":6,"tickSize":2,"labelPadding":1,"labelOverlap":false,"labelFlush":false}},"text":{"field":"s"}}}
]
},
{
"width":598,"height":39,
"resolve":{"scale":{"color":"independent"}},
"layer":[
{"data":{"name":"vg"},"mark":{"type":"rule","strokeDash":[1,2],"strokeWidth":1},
"encoding":{"x":{"field":"i","type":"quantitative","scale":{"domain":[0,206],"nice":false,"zero":false},
"axis":{"orient":"bottom","title":null,"values":[0,13,26,39,52,78,91,104,117,130,143,156],"labelExpr":"['3 Feb 2022','3 Feb 16:00','4 Feb 05:00','4 Feb 17:00','7 Feb 06:00','8 Feb 07:00','8 Feb 19:00','9 Feb 08:00','9 Feb 20:00','10 Feb 09:00','10 Feb 21:00','11 Feb 10:00'][indexof([0,13,26,39,52,78,91,104,117,130,143,156], datum.value)]","labelAlign":"left","labelFontSize":5.8,"labelPadding":0,"tickSize":2,"labelOverlap":false,"labelFlush":false,"labelOffset":1}},
"color":{"field":"r","type":"nominal","scale":{"domain":["n","r"],"range":["#8a8a8a","#b00000"]},"legend":null}}},
{"data":{"values":[{"v":0}]},"mark":{"type":"rule","strokeDash":[1,2],"color":"#8a8a8a"},
"encoding":{"y":{"field":"v","type":"quantitative","scale":{"domain":[-2.45,5.5],"nice":false,"zero":false},
"axis":{"orient":"right","title":null,"values":[3.675,0,-2.377],"labelExpr":"datum.value == 0 ? '0.00' : format(datum.value, '.3f')","labelFontSize":5.8,"tickSize":2,"labelPadding":1,"labelOverlap":false,"labelFlush":false}}}},
{"data":{"name":"c"},"mark":{"type":"rule","strokeWidth":1.3,"color":"#1aa6a6","clip":true},
"encoding":{"x":{"field":"i","type":"quantitative","scale":{"domain":[0,206]},"axis":{"orient":"bottom","title":null,"values":[0,13,26,39,52,78,91,104,117,130,143,156],"labelExpr":"['3 Feb 2022','3 Feb 16:00','4 Feb 05:00','4 Feb 17:00','7 Feb 06:00','8 Feb 07:00','8 Feb 19:00','9 Feb 08:00','9 Feb 20:00','10 Feb 09:00','10 Feb 21:00','11 Feb 10:00'][indexof([0,13,26,39,52,78,91,104,117,130,143,156], datum.value)]","labelAlign":"left","labelFontSize":5.8,"labelPadding":0,"tickSize":2,"labelOverlap":false,"labelFlush":false,"labelOffset":1}},
"y":{"field":"m","type":"quantitative","scale":{"domain":[-2.45,5.5]},"axis":{"orient":"right","title":null,"values":[3.675,0,-2.377],"labelExpr":"datum.value == 0 ? '0.00' : format(datum.value, '.3f')","labelFontSize":5.8,"tickSize":2,"labelPadding":1,"labelOverlap":false,"labelFlush":false}},"y2":{"datum":0}}},
{"data":{"name":"c"},"mark":{"type":"line","strokeWidth":1,"color":"#e0e0e0","clip":true},
"encoding":{"x":{"field":"i","type":"quantitative","scale":{"domain":[0,206]},"axis":{"orient":"bottom","title":null,"values":[0,13,26,39,52,78,91,104,117,130,143,156],"labelExpr":"['3 Feb 2022','3 Feb 16:00','4 Feb 05:00','4 Feb 17:00','7 Feb 06:00','8 Feb 07:00','8 Feb 19:00','9 Feb 08:00','9 Feb 20:00','10 Feb 09:00','10 Feb 21:00','11 Feb 10:00'][indexof([0,13,26,39,52,78,91,104,117,130,143,156], datum.value)]","labelAlign":"left","labelFontSize":5.8,"labelPadding":0,"tickSize":2,"labelOverlap":false,"labelFlush":false,"labelOffset":1}},
"y":{"field":"s","type":"quantitative","scale":{"domain":[-2.45,5.5]},"axis":{"orient":"right","title":null,"values":[3.675,0,-2.377],"labelExpr":"datum.value == 0 ? '0.00' : format(datum.value, '.3f')","labelFontSize":5.8,"tickSize":2,"labelPadding":1,"labelOverlap":false,"labelFlush":false}}}},
{"data":{"values":[{"i":1.0,"v":5.0,"s":"Bab Calculator"},{"i":1.0,"v":3.65,"s":"MACD(12,26,9) -0.864 -1.627"}]},
"mark":{"type":"text","align":"left","baseline":"middle","fontSize":6,"color":"#e0e0e0"},
"encoding":{"x":{"field":"i","type":"quantitative","scale":{"domain":[0,206]},"axis":{"orient":"bottom","title":null,"values":[0,13,26,39,52,78,91,104,117,130,143,156],"labelExpr":"['3 Feb 2022','3 Feb 16:00','4 Feb 05:00','4 Feb 17:00','7 Feb 06:00','8 Feb 07:00','8 Feb 19:00','9 Feb 08:00','9 Feb 20:00','10 Feb 09:00','10 Feb 21:00','11 Feb 10:00'][indexof([0,13,26,39,52,78,91,104,117,130,143,156], datum.value)]","labelAlign":"left","labelFontSize":5.8,"labelPadding":0,"tickSize":2,"labelOverlap":false,"labelFlush":false,"labelOffset":1}},
"y":{"field":"v","type":"quantitative","scale":{"domain":[-2.45,5.5]},"axis":{"orient":"right","title":null,"values":[3.675,0,-2.377],"labelExpr":"datum.value == 0 ? '0.00' : format(datum.value, '.3f')","labelFontSize":5.8,"tickSize":2,"labelPadding":1,"labelOverlap":false,"labelFlush":false}},"text":{"field":"s"}}},
{"data":{"values":[{"a":64.8,"b":77.5,"v1":-2.62,"v2":-4.2}]},
"mark":{"type":"rect","fill":"#e00000"},
"encoding":{"x":{"field":"a","type":"quantitative","scale":{"domain":[0,206]},"axis":{"orient":"bottom","title":null,"values":[0,13,26,39,52,78,91,104,117,130,143,156],"labelExpr":"['3 Feb 2022','3 Feb 16:00','4 Feb 05:00','4 Feb 17:00','7 Feb 06:00','8 Feb 07:00','8 Feb 19:00','9 Feb 08:00','9 Feb 20:00','10 Feb 09:00','10 Feb 21:00','11 Feb 10:00'][indexof([0,13,26,39,52,78,91,104,117,130,143,156], datum.value)]","labelAlign":"left","labelFontSize":5.8,"labelPadding":0,"tickSize":2,"labelOverlap":false,"labelFlush":false,"labelOffset":1}},"x2":{"field":"b"},
"y":{"field":"v1","type":"quantitative","scale":{"domain":[-2.45,5.5]},"axis":{"orient":"right","title":null,"values":[3.675,0,-2.377],"labelExpr":"datum.value == 0 ? '0.00' : format(datum.value, '.3f')","labelFontSize":5.8,"tickSize":2,"labelPadding":1,"labelOverlap":false,"labelFlush":false}},"y2":{"field":"v2"}}},
{"data":{"values":[{"i":71.15,"v":-3.42,"s":"2022.02.08 01:00"}]},
"mark":{"type":"text","align":"center","baseline":"middle","fontSize":5.8,"color":"#ffffff"},
"encoding":{"x":{"field":"i","type":"quantitative","scale":{"domain":[0,206]},"axis":{"orient":"bottom","title":null,"values":[0,13,26,39,52,78,91,104,117,130,143,156],"labelExpr":"['3 Feb 2022','3 Feb 16:00','4 Feb 05:00','4 Feb 17:00','7 Feb 06:00','8 Feb 07:00','8 Feb 19:00','9 Feb 08:00','9 Feb 20:00','10 Feb 09:00','10 Feb 21:00','11 Feb 10:00'][indexof([0,13,26,39,52,78,91,104,117,130,143,156], datum.value)]","labelAlign":"left","labelFontSize":5.8,"labelPadding":0,"tickSize":2,"labelOverlap":false,"labelFlush":false,"labelOffset":1}},
"y":{"field":"v","type":"quantitative","scale":{"domain":[-2.45,5.5]},"axis":{"orient":"right","title":null,"values":[3.675,0,-2.377],"labelExpr":"datum.value == 0 ? '0.00' : format(datum.value, '.3f')","labelFontSize":5.8,"tickSize":2,"labelPadding":1,"labelOverlap":false,"labelFlush":false}},"text":{"field":"s"}}}
]
}
]
}
